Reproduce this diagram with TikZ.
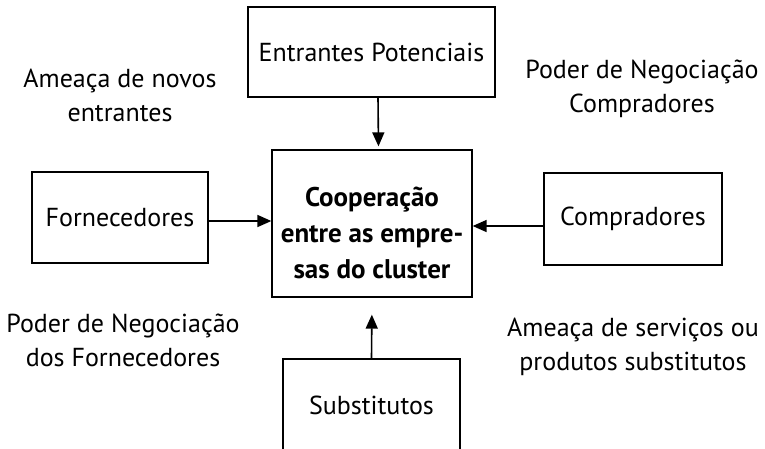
\documentclass[tikz,border=0pt]{standalone}
\usepackage{fontspec}
\setmainfont{PT Sans}
\usetikzlibrary{arrows.meta}
\begin{document}
\begin{tikzpicture}[x=1pt,y=-1pt,
    caixa/.style={draw,line width=1.3pt,inner sep=0pt,align=center,font=\fontsize{26}{34}\selectfont},
    rotulo/.style={align=center,inner sep=0pt,font=\fontsize{26}{34}\selectfont},
    seta/.style={-{Triangle[length=14pt,width=12pt]},line width=1.6pt}]
  \useasboundingbox (0,0) rectangle (765,448);
  \clip (0,0) rectangle (765,448);
  % caixas
  \node[caixa,minimum width=247pt,minimum height=90pt] (ent) at (371.5,52) {Entrantes Potenciais};
  \node[caixa,minimum width=200pt,minimum height=147pt,font=\bfseries\fontsize{27}{36}\selectfont] (coop) at (372,223.5)
    {\rule{0pt}{38pt}Cooperação\\entre as empre-\\sas do cluster};
  \node[caixa,minimum width=176pt,minimum height=91pt] (forn) at (120,217.5) {Fornecedores};
  \node[caixa,minimum width=178pt,minimum height=92pt] (comp) at (633,219) {Compradores};
  \node[caixa,minimum width=177pt,minimum height=92pt] (subst) at (371.5,405) {Substitutos};
  % forcas
  \node[rotulo] (novos) at (120,95.5) {Ameaça de novos\\entrantes};
  \node[rotulo] (podcomp) at (642,88.5) {Poder de Negociação\\Compradores};
  \node[rotulo] (podforn) at (123,340) {Poder de Negociação\\dos Fornecedores};
  \node[rotulo] (ameasub) at (633,347) {Ameaça de serviços ou\\produtos substitutos};
  % setas
  \draw[seta,shorten >=3pt] ([xshift=6.5pt]ent.south) -- ([xshift=6.5pt]coop.north);
  \draw[seta] ([yshift=-3.5pt]forn.east) -- ([yshift=-3.5pt]forn.east -| coop.west);
  \draw[seta] ([yshift=-7pt]comp.west) -- ([yshift=-7pt]comp.west -| coop.east);
  \draw[seta,shorten >=17pt] (subst.north) -- (coop.south);
\end{tikzpicture}
\end{document}
